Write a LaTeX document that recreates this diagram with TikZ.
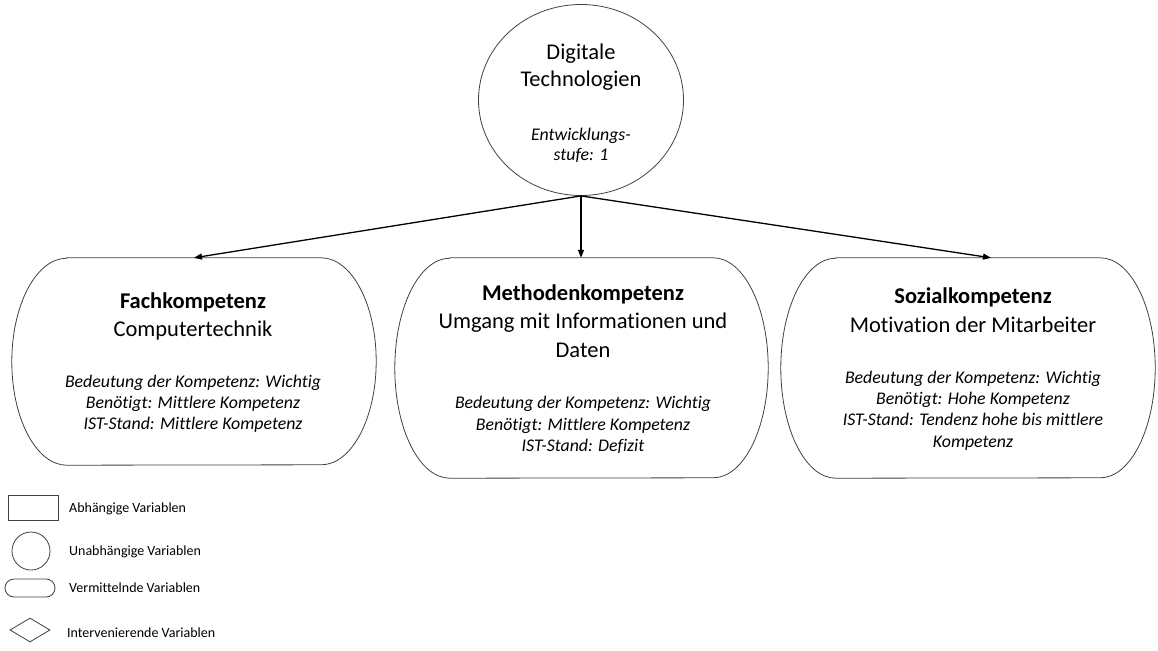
\documentclass[tikz,border=0pt]{standalone}
\usepackage{fontspec}
\setmainfont{Carlito}[Ligatures={NoCommon}]
\usetikzlibrary{shapes.geometric,arrows.meta}
\tikzset{
 outl/.style={draw=black!75, line width=0.8pt},
 hd/.style={anchor=base, inner sep=0, font=\fontsize{22.5}{27}\selectfont\bfseries},
 sb/.style={anchor=base, inner sep=0, font=\fontsize{22.5}{27}\selectfont},
 itx/.style={anchor=base, inner sep=0, font=\fontsize{17.8}{21}\selectfont\itshape},
 lg/.style={anchor=base west, inner sep=0, font=\fontsize{14}{16}\selectfont},
 arr/.style={-{Triangle[length=8pt,width=6pt]}, line width=1.3pt},
 holder/.style={rectangle, inner sep=0, draw=none}
}
\newcommand\termoutline[2]{\draw[outl] ([xshift=55pt]#1.north west) -- ([xshift=-55pt]#1.north east) arc[start angle=90,end angle=-90,x radius=55pt,y radius=#2] -- ([xshift=55pt]#1.south west) arc[start angle=270,end angle=90,x radius=55pt,y radius=#2] -- cycle;}
\begin{document}
\begin{tikzpicture}[x=1pt,y=-1pt]
\useasboundingbox (0,0) rectangle (1158,650);
% central circle
\node[ellipse, outl, inner sep=0, minimum width=205pt, minimum height=191pt] (dt) at (581,100) {};
\node[sb] (dt1) at (581,60) {Digitale};
\node[sb] (dt2) at (581,87) {Technologien};
\node[itx] (dt3) at (581,140) {Entwicklungs-};
\node[itx] (dt4) at (581,160) {stufe: 1};
% boxes
\node[holder, minimum width=364pt, minimum height=207pt] (fach) at (194,361.5) {};
\termoutline{fach}{103.5pt}
\node[holder, minimum width=373pt, minimum height=220pt] (meth) at (581.5,368) {};
\termoutline{meth}{110pt}
\node[holder, minimum width=374pt, minimum height=220pt] (soz) at (968,368) {};
\termoutline{soz}{110pt}
% left text
\node[hd] (f1) at (193,308) {Fachkompetenz};
\node[sb] (f2) at (193,336) {Computertechnik};
\node[itx] (f3) at (193,387) {Bedeutung der Kompetenz: Wichtig};
\node[itx] (f4) at (193,408) {Benötigt: Mittlere Kompetenz};
\node[itx] (f5) at (193,429) {IST-Stand: Mittlere Kompetenz};
% middle text
\node[hd] (m1) at (583,300) {Methodenkompetenz};
\node[sb] (m2) at (583,328) {Umgang mit Informationen und};
\node[sb] (m3) at (583,357) {Daten};
\node[itx] (m4) at (583,408) {Bedeutung der Kompetenz: Wichtig};
\node[itx] (m5) at (583,430) {Benötigt: Mittlere Kompetenz};
\node[itx] (m6) at (583,451) {IST-Stand: Defizit};
% right text
\node[hd] (s1) at (973,303) {Sozialkompetenz};
\node[sb] (s2) at (973,332) {Motivation der Mitarbeiter};
\node[itx] (s3) at (973,383) {Bedeutung der Kompetenz: Wichtig};
\node[itx] (s4) at (973,404) {Benötigt: Hohe Kompetenz};
\node[itx] (s5) at (973,425) {IST-Stand: Tendenz hohe bis mittlere};
\node[itx] (s6) at (973,447) {Kompetenz};
% arrows
\draw[arr] (dt.south) -- (fach.north);
\draw[arr] (dt.south) -- (meth.north -| dt.south);
\draw[arr] (dt.south) -- ([xshift=23pt]soz.north);
% legend
\node[rectangle, outl, inner sep=0, minimum width=50pt, minimum height=25pt] (lrect) at (33,507.5) {};
\node[lg] (lt1) at (69,512) {Abhängige Variablen};
\node[ellipse, outl, inner sep=0, minimum width=38pt, minimum height=38pt] (lcirc) at (31,551) {};
\node[lg] (lt2) at (69,555) {Unabhängige Variablen};
\node[rectangle, rounded corners=9pt, outl, inner sep=0, minimum width=50pt, minimum height=18pt] (lround) at (30,588) {};
\node[lg] (lt3) at (69,592) {Vermittelnde Variablen};
\node[diamond, outl, inner sep=0, minimum width=40pt, minimum height=24pt] (ldia) at (30,630) {};
\node[lg] (lt4) at (67,637) {Intervenierende Variablen};
\end{tikzpicture}
\end{document}
